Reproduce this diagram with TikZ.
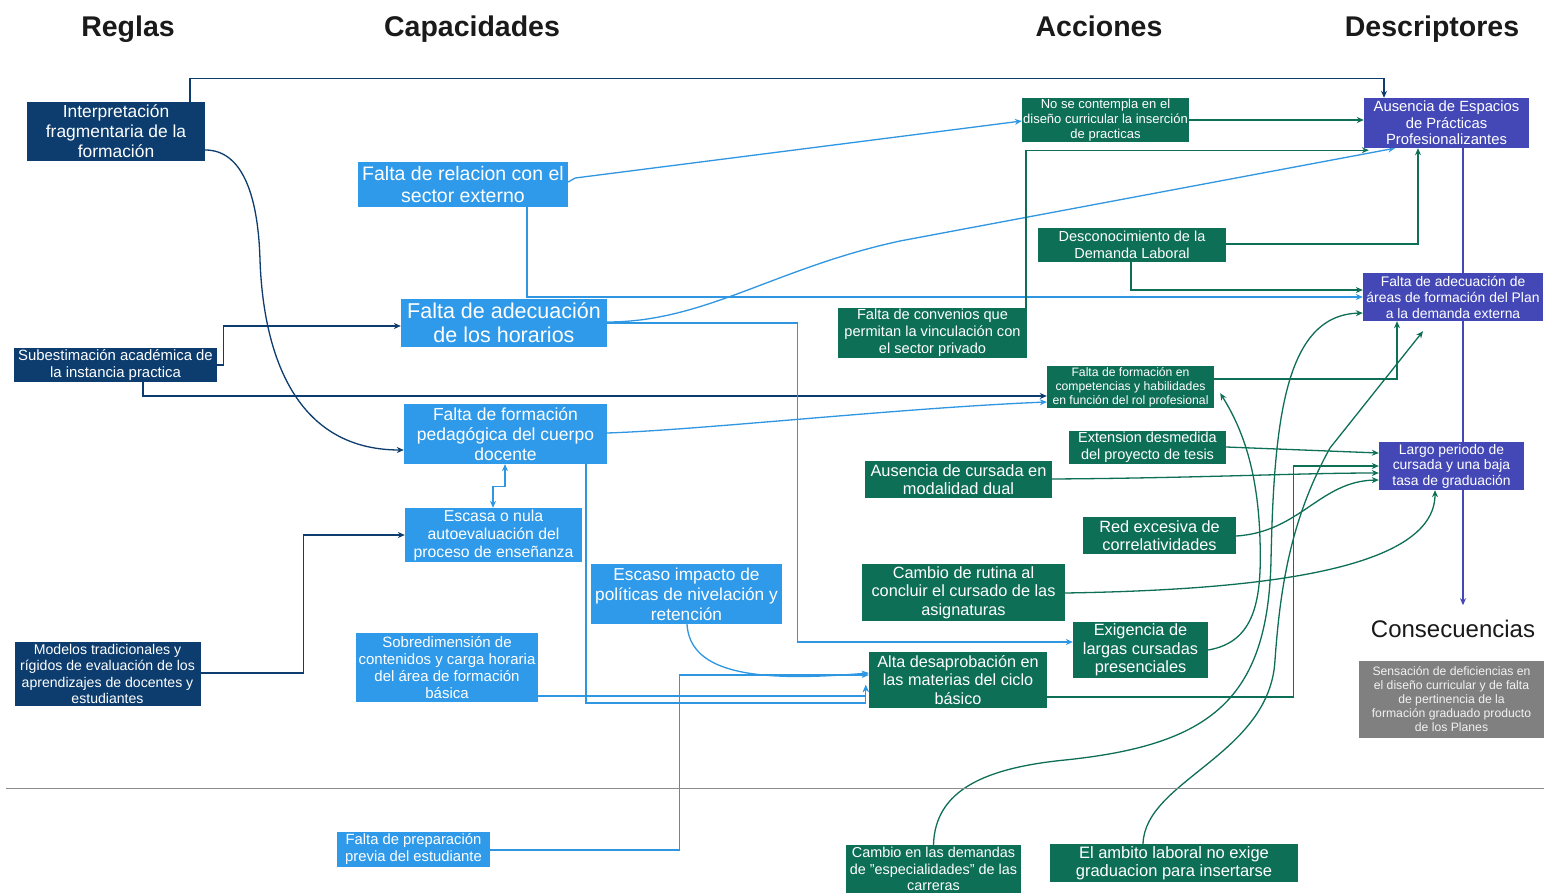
\documentclass[tikz,border=0pt]{standalone}
\usepackage{fontspec}
\setmainfont{Liberation Sans}
\usetikzlibrary{arrows.meta,calc}

\definecolor{cNavy}{HTML}{0C3D6E}
\definecolor{cSky}{HTML}{2F9AE9}
\definecolor{cSkyLine}{HTML}{2F96E2}
\definecolor{cGreen}{HTML}{0E6F57}
\definecolor{cViolet}{HTML}{4448B6}
\definecolor{cGrey}{HTML}{808080}
\definecolor{cGreyText}{HTML}{F2F2F2}
\definecolor{cRule}{HTML}{8C8C8C}
\definecolor{cInk}{HTML}{1A1A1A}

\pgfdeclarelayer{paper}
\pgfdeclarelayer{wires}
\pgfsetlayers{paper,wires,main}

\tikzset{
  card/.style={inner xsep=1pt, inner ysep=0pt, align=center, text=white},
  regla/.style={card, fill=cNavy},
  capac/.style={card, fill=cSky},
  accion/.style={card, fill=cGreen},
  descr/.style={card, fill=cViolet},
  conseq/.style={card, fill=cGrey, text=cGreyText},
  fs/.style 2 args={font=\fontsize{#1}{#2}\selectfont},
  wh/.style 2 args={minimum width=#1pt, minimum height=#2pt},
  heading/.style={font=\bfseries\fontsize{28.5}{32}\selectfont, text=cInk, inner sep=0pt, anchor=base},
  wire/.style={line width=1.3pt},
  navyline/.style={wire, draw=cNavy},
  skyline/.style={wire, draw=cSkyLine},
  greenline/.style={wire, draw=cGreen},
  violetline/.style={wire, draw=cViolet},
  tip/.style={-{Stealth[length=7pt,width=6pt]}},
  twotips/.style={{Stealth[length=7pt,width=6pt]}-{Stealth[length=7pt,width=6pt]}}
}

\begin{document}
\begin{tikzpicture}[x=1pt,y=-1pt]
\useasboundingbox (0,0) rectangle (1544,893);
\begin{pgfonlayer}{paper}
  \fill[white] (0,0) rectangle (1544,893);
\end{pgfonlayer}

% column headings
\node[heading] (hReglas) at (128,37) {Reglas};
\node[heading] (hCapac) at (472,37) {Capacidades};
\node[heading] (hAcc) at (1099,37) {Acciones};
\node[heading] (hDesc) at (1432,37) {Descriptores};
\node[font=\fontsize{24}{28}\selectfont, text=cInk, inner sep=0pt, anchor=base] (cons) at (1453,637) {Consecuencias};

% separator
\draw[cRule, line width=1pt] (6,788) -- (1544,788);

% Reglas
\node[regla, wh={178}{59}, fs={17.4}{20}] (R1) at (116,131.5) {Interpretación\\fragmentaria de la\\formación};
\node[regla, wh={203}{34}, fs={14.9}{17}] (R2) at (115.5,365) {Subestimación académica de\\la instancia practica};
\node[regla, wh={186}{64}, fs={14.1}{16.3}] (R3) at (107.5,674) {Modelos tradicionales y\\rígidos de evaluación de los\\aprendizajes de docentes y\\estudiantes};

% Capacidades
\node[capac, wh={210}{45}, fs={19.5}{22}] (C1) at (463,184.5) {Falta de relacion con el\\sector externo};
\node[capac, wh={206}{48}, fs={21.5}{24}] (C2) at (504,323) {Falta de adecuación\\de los horarios};
\node[capac, wh={203}{60}, fs={17.5}{20}] (C3) at (505.5,434) {Falta de formación\\pedagógica del cuerpo\\docente};
\node[capac, wh={177}{54}, fs={15.8}{18}] (C4) at (493.5,535) {Escasa o nula\\autoevaluación del\\proceso de enseñanza};
\node[capac, wh={191}{60}, fs={17.3}{20}] (C5) at (686.5,594) {Escaso impacto de\\políticas de nivelación y\\retención};
\node[capac, wh={182}{69}, fs={15}{17.3}] (C6) at (447,667.5) {Sobredimensión de\\contenidos y carga horaria\\del área de formación\\básica};
\node[capac, wh={153}{35}, fs={14.8}{17}] (C7) at (413.5,849.5) {Falta de preparación\\previa del estudiante};

% Acciones
\node[accion, wh={167}{44}, fs={13}{15}] (A1) at (1105.5,120) {No se contempla en el\\diseño curricular la inserción\\de practicas};
\node[accion, wh={188}{34}, fs={14.5}{16.5}] (A2) at (1132,245) {Desconocimiento de la\\Demanda Laboral};
\node[accion, wh={189}{50}, fs={14.6}{17}] (A3) at (932.5,333) {Falta de convenios que\\permitan la vinculación con\\el sector privado};
\node[accion, wh={167}{42}, fs={12.2}{14}] (A4) at (1130.5,387) {Falta de formación en\\competencias y habilidades\\en función del rol profesional};
\node[accion, wh={157}{33}, fs={14.5}{17}] (A5) at (1147.5,447.5) {Extension desmedida\\del proyecto de tesis};
\node[accion, wh={187}{37}, fs={16.4}{18.5}] (A6) at (958.5,479.5) {Ausencia de cursada en\\modalidad dual};
\node[accion, wh={153}{37}, fs={16.3}{18}] (A7) at (1159.5,535.5) {Red excesiva de\\correlatividades};
\node[accion, wh={203}{57}, fs={16.3}{18.5}] (A8) at (963.5,592.5) {Cambio de rutina al\\concluir el cursado de las\\asignaturas};
\node[accion, wh={135}{56}, fs={16.3}{18.5}] (A9) at (1140.5,650) {Exigencia de\\largas cursadas\\presenciales};
\node[accion, wh={178}{56}, fs={16.2}{18.5}] (A10) at (958,680) {Alta desaprobación en\\las materias del ciclo\\básico};
\node[accion, wh={175}{48}, fs={14.4}{16.5}] (A11) at (933.5,869) {Cambio en las demandas\\de "especialidades" de las\\carreras};
\node[accion, wh={248}{38}, fs={16.5}{18}] (A12) at (1174,863) {El ambito laboral no exige\\graduacion para insertarse};

% Descriptores
\node[descr, wh={165}{50}, fs={14.8}{16.7}] (D1) at (1446.5,123) {Ausencia de Espacios\\de Prácticas\\Profesionalizantes};
\node[descr, wh={180}{48}, fs={13.9}{16}] (D2) at (1453,297) {Falta de adecuación de\\áreas de formación del Plan\\a la demanda externa};
\node[descr, wh={145}{48}, fs={13.9}{15.5}] (D3) at (1451.5,466) {Largo periodo de\\cursada y una baja\\tasa de graduación};

% Consecuencias
\node[conseq, wh={185}{77}, fs={12.2}{14}] (G1) at (1451.5,699.5) {Sensación de deficiencias en\\el diseño curricular y de falta\\de pertinencia de la\\formación graduado producto\\de los Planes};

\begin{pgfonlayer}{wires}
  % from the Reglas
  \draw[navyline,tip] (R1.north -| 190,0) -- ++(0,-23) -| (D1.north -| 1384,0);
  \draw[navyline,tip] (R1.east |- 0,150) .. controls (240,150) and (258,190) .. (260,260)
        .. controls (263,345) and (290,450) .. (C3.west |- 0,450);
  \draw[navyline,tip] (R2.east) -- ++(6,0) |- (C2.west |- 0,326);
  \draw[navyline,tip] (R2.south -| 143,0) |- (A4.west |- 0,396);
  \draw[navyline,tip] (R3.east |- 0,673) -- ++(103,0) |- (C4.west |- 0,535);

  % from the Capacidades
  \draw[skyline,tip] (C1.east |- 0,182) -- ++(7,-4) -- (A1.west |- 0,121);
  \draw[skyline,tip] (C1.south -| 527,0) |- (D2.west |- 0,297);
  \draw[skyline,tip] (C2.east |- 0,322) .. controls (705,322) and (775,268) .. (900,241) -- (D1.south -| 1395,0);
  \draw[skyline,tip] (C2.east |- 0,323) -- ++(190,0) |- (A9.west |- 0,642);
  \draw[skyline,tip] (C3.east |- 0,433) .. controls (700,430) and (900,408) .. (A4.west |- 0,402);
  \draw[skyline,tip] (C3.south -| 586,0) |- ($(A10.west)+(-3,23)$) -- ($(A10.west)+(-3,5)$);
  \draw[skyline,tip] (C6.east |- 0,696) -| ($(A10.west)+(-3,5)$);
  \draw[skyline,twotips] (C4.north -| 493,0) -- ++(0,-21) -| (C3.south -| 505,0);
  \draw[skyline,tip] (C5.south -| 687,0) .. controls (690,675) and (760,682) .. ($(A10.west)+(0,-7)$);
  \draw[skyline,tip] (C7.east |- 0,850) -- ++(189,0) |- ($(A10.west)+(0,-5)$);

  % from the Acciones
  \draw[greenline,tip] (A1.east |- 0,120) -- (D1.west |- 0,120);
  \draw[greenline,tip] (A3.north -| 1026,0) |- ($(D1.south west)+(5,2)$);
  \draw[greenline,tip] (A2.east |- 0,244) -| (D1.south -| 1418,0);
  \draw[greenline,tip] (A2.south -| 1131,0) |- (D2.west |- 0,290);
  \draw[greenline,tip] (A4.east |- 0,379) -| (D2.south -| 1397,0);
  \draw[greenline,tip] (A5.east |- 0,447) -- (D3.west |- 0,453);
  \draw[greenline,tip] (A6.east |- 0,479) .. controls (1200,478) and (1300,473) .. (D3.west |- 0,473);
  \draw[greenline,tip] (A10.east |- 0,697) -- ++(246,0) |- (D3.west |- 0,466);
  \draw[greenline,tip] (A7.east |- 0,536) .. controls (1300,532) and (1320,481) .. (D3.west |- 0,480);
  \draw[greenline,tip] (A8.east |- 0,593) .. controls (1250,590) and (1435,572) .. (D3.south -| 1435,0);
  \draw[greenline,tip] (A9.east |- 0,650) .. controls (1255,642) and (1262,600) .. (1260,540)
        .. controls (1258,470) and (1242,428) .. ($(A4.south east)+(6,-15)$);
  \draw[greenline,tip] (A11.north) .. controls (935,790) and (985,768) .. (1065,760)
        .. controls (1210,745) and (1268,700) .. (1271,560)
        .. controls (1274,420) and (1285,315) .. (D2.west |- 0,313);
  \draw[greenline,tip] (A12.north -| 1143,0) .. controls (1145,780) and (1270,755) .. (1275,660)
        .. controls (1280,590) and (1290,520) .. (1330,448) -- ($(D2.south)+(-30,10)$);

  % descriptors lead to the consequences
  \draw[violetline,tip] (D1.south -| 1463,0) -- ++(0,457);
\end{pgfonlayer}
\end{tikzpicture}
\end{document}
